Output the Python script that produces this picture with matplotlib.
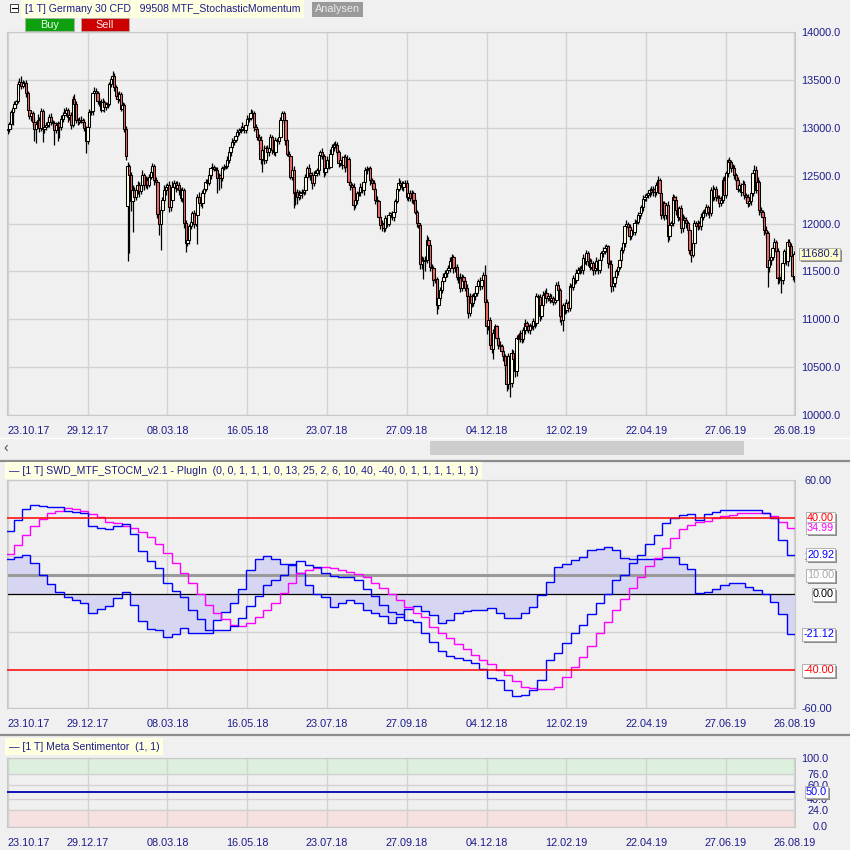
"""
Germany 30 CFD daily candles with MTF stochastic momentum and sentiment panels
"""
import numpy as np
import matplotlib
matplotlib.use("Agg")
import matplotlib.pyplot as plt
import matplotlib.patheffects as pe
from matplotlib.patches import Rectangle
from matplotlib.lines import Line2D
from matplotlib.transforms import blended_transform_factory

plt.rcParams["font.family"] = ["Liberation Sans", "DejaVu Sans"]

W = H = 850
BG = "#F0F0F0"
GRID = "#D2D2D2"
NAVY = "#1C1C8C"
UP = "#FFFFE4"
DOWN = "#EE6464"
FS = 7.8

# x axis labels (bar index -> date)
date_labels = ["23.10.17", "29.12.17", "08.03.18", "16.05.18", "23.07.18", "27.09.18",
               "04.12.18", "12.02.19", "22.04.19", "27.06.19", "26.08.19"]
date_bars = [0, 48, 96, 144, 192, 240, 288, 336, 384, 432, 473]

# daily candles, open = previous close unless listed in gap_opens
first_open = 12975
gap_opens = {72: 12185}
close = [
    12990, 13035, 13160, 13205, 13245, 13275, 13460, 13480, 13440, 13465,
    13470, 13360, 13190, 13120, 13150, 13060, 12990, 13040, 13080, 12995,
    13170, 12990, 13005, 13030, 13060, 13115, 13060, 13045, 12975, 13025,
    13045, 13010, 13095, 13130, 13155, 13185, 13115, 13130, 13025, 13305,
    13250, 13085, 13080, 13065, 13080, 13060, 13000, 12860, 13010, 13160,
    13170, 13365, 13380, 13360, 13280, 13270, 13190, 13265, 13215, 13250,
    13250, 13460, 13505, 13540, 13425, 13330, 13305, 13350, 13200, 13235,
    12985, 12700, 12600, 12505, 12230, 12350, 12280, 12350, 12400, 12335,
    12400, 12505, 12400, 12455, 12400, 12490, 12540, 12600, 12455, 12435,
    12100, 11990, 12140, 12250, 12350, 12385, 12400, 12175, 12250, 12385,
    12420, 12370, 12400, 12350, 12265, 12350, 12005, 11795, 11830, 11970,
    12020, 12105, 12000, 12090, 12280, 12210, 12210, 12315, 12365, 12435,
    12420, 12505, 12575, 12585, 12570, 12560, 12470, 12505, 12470, 12575,
    12595, 12600, 12660, 12750, 12800, 12855, 12870, 12915, 12960, 12975,
    12990, 13010, 12980, 13025, 13095, 13105, 13150, 13155, 13010, 12990,
    12905, 12870, 12670, 12765, 12660, 12785, 12750, 12785, 12905, 12765,
    12750, 12870, 12860, 12905, 13080, 13150, 13080, 12870, 12730, 12700,
    12490, 12560, 12315, 12330, 12280, 12300, 12315, 12330, 12350, 12490,
    12575, 12525, 12505, 12420, 12505, 12525, 12560, 12715, 12750, 12700,
    12540, 12575, 12660, 12595, 12730, 12800, 12835, 12815, 12750, 12630,
    12660, 12610, 12695, 12590, 12670, 12435, 12405, 12385, 12195, 12245,
    12315, 12330, 12385, 12350, 12435, 12560, 12565, 12575, 12455, 12420,
    12365, 12245, 12230, 12070, 11985, 12000, 11950, 12055, 12000, 12090,
    12105, 12070, 12125, 12230, 12365, 12420, 12400, 12380, 12420, 12425,
    12280, 12315, 12265, 12315, 12245, 12125, 12005, 11985, 11580, 11620,
    11605, 11620, 11830, 11775, 11550, 11535, 11410, 11420, 11150, 11220,
    11310, 11395, 11445, 11480, 11515, 11535, 11605, 11655, 11535, 11550,
    11445, 11430, 11325, 11445, 11395, 11325, 11240, 11065, 11240, 11170,
    11240, 11275, 11345, 11395, 11345, 11410, 11465, 11185, 10925, 10995,
    10735, 10685, 10855, 10925, 10805, 10735, 10720, 10665, 10615, 10525,
    10320, 10615, 10330, 10650, 10580, 10460, 10805, 10790, 10855, 10790,
    10890, 10960, 10925, 10890, 10945, 10925, 10980, 10960, 11240, 11235,
    11030, 11150, 11255, 11275, 11220, 11240, 11205, 11220, 11185, 11205,
    11360, 11310, 11030, 10995, 11150, 11100, 11170, 11115, 11345, 11340,
    11430, 11410, 11480, 11515, 11535, 11515, 11640, 11605, 11690, 11605,
    11550, 11585, 11515, 11535, 11605, 11515, 11620, 11690, 11710, 11745,
    11760, 11590, 11580, 11345, 11380, 11445, 11500, 11550, 11620, 11725,
    11795, 11970, 11995, 11965, 11865, 11935, 11915, 12005, 12020, 12090,
    12105, 12175, 12260, 12280, 12300, 12315, 12350, 12330, 12365, 12330,
    12400, 12455, 12315, 12090, 12210, 12090, 12195, 11865, 11985, 12005,
    12280, 12245, 12140, 12070, 12160, 11950, 12055, 12040, 12005, 11935,
    11725, 11675, 11795, 12005, 11970, 12005, 11970, 12070, 12125, 12105,
    12175, 12125, 12105, 12350, 12280, 12365, 12280, 12265, 12210, 12245,
    12455, 12300, 12525, 12660, 12645, 12575, 12580, 12505, 12455, 12365,
    12400, 12330, 12410, 12300, 12280, 12210, 12230, 12315, 12525, 12560,
    12350, 12435, 12140, 12125, 12070, 11935, 11900, 11550, 11620, 11655,
    11745, 11810, 11710, 11430, 11445, 11410, 11585, 11710, 11605, 11810,
    11760, 11660, 11450, 11680.4,
]
# wick lengths above / below the body, in units of 10 points
wick_hi = [
    3, 2, 3, 2, 3, 2, 3, 4, 6, 3,  2, 3, 2, 4, 3, 2, 4, 3, 6, 3,
    4, 3, 2, 3, 5, 3, 4, 2, 3, 4,  3, 2, 4, 3, 5, 3, 2, 4, 3, 3,
    5, 3, 2, 3, 4, 2, 3, 2, 3, 4,  3, 2, 5, 3, 2, 4, 3, 5, 3, 2,
    3, 2, 4, 5, 3, 2, 4, 3, 2, 3,  2, 3, 4, 2, 3, 5, 3, 2, 4, 3,
    3, 5, 2, 4, 3, 3, 4, 3, 2, 3,  2, 3, 4, 3, 5, 3, 2, 4, 3, 6,
    3, 2, 4, 3, 2, 3, 2, 3, 4, 3,  5, 3, 4, 2, 3, 5, 3, 4, 2, 3,
    3, 4, 2, 5, 3, 2, 3, 2, 4, 3,  3, 2, 4, 3, 2, 4, 3, 2, 3, 2,
    3, 5, 2, 3, 4, 2, 5, 3, 2, 3,  2, 3, 4, 3, 5, 2, 3, 4, 3, 2,
    4, 3, 2, 5, 3, 2, 3, 4, 2, 3,  2, 3, 4, 2, 3, 5, 2, 3, 4, 3,
    3, 5, 2, 3, 4, 3, 2, 3, 2, 4,  3, 2, 4, 3, 5, 3, 2, 3, 4, 2,
    3, 4, 2, 3, 5, 2, 3, 2, 4, 3,  2, 3, 4, 3, 2, 3, 4, 2, 3, 2,
    3, 2, 4, 2, 3, 4, 2, 3, 2, 3,  2, 3, 4, 3, 2, 5, 3, 4, 2, 3,
    3, 2, 3, 4, 2, 3, 2, 3, 2, 4,  3, 4, 5, 3, 2, 3, 2, 3, 2, 4,
    3, 2, 4, 3, 2, 3, 4, 3, 2, 4,  3, 2, 5, 3, 2, 3, 4, 2, 3, 2,
    3, 2, 4, 3, 5, 3, 3, 10, 3, 2, 3, 2, 4, 3, 2, 3, 4, 2, 3, 2,
    4, 3, 2, 4, 3, 2, 3, 4, 3, 2,  3, 4, 2, 3, 2, 4, 3, 2, 3, 2,
    3, 2, 4, 3, 5, 2, 3, 4, 2, 3,  3, 4, 2, 3, 2, 3, 4, 2, 3, 2,
    3, 2, 4, 3, 2, 3, 4, 2, 3, 2,  3, 4, 2, 3, 4, 2, 3, 2, 4, 3,
    3, 2, 3, 4, 2, 3, 2, 3, 2, 3,  2, 3, 4, 2, 3, 2, 3, 4, 2, 3,
    3, 2, 4, 3, 2, 3, 2, 4, 3, 2,  3, 4, 2, 3, 2, 3, 2, 4, 3, 2,
    3, 2, 4, 3, 2, 3, 4, 2, 3, 2,  3, 2, 4, 3, 2, 3, 2, 4, 2, 3,
    3, 2, 4, 3, 5, 2, 3, 2, 3, 4,  3, 4, 2, 1, 3, 2, 4, 3, 2, 3,
    3, 2, 4, 3, 2, 3, 4, 2, 3, 5,  4, 5, 2, 3, 2, 3, 4, 2, 3, 4,
    3, 4, 2, 3, 2, 4, 3, 2, 4, 3,  3, 4, 2, 3,
]
wick_lo = [
    4, 3, 5, 13, 3, 4, 2, 3, 4, 3,  3, 4, 2, 3, 5, 4, 13, 15, 3, 4,
    3, 14, 4, 3, 2, 5, 3, 4, 15, 3,  16, 12, 3, 4, 2, 3, 5, 3, 4, 2,
    3, 4, 5, 3, 2, 4, 3, 12, 3, 2,  3, 4, 2, 5, 3, 4, 3, 2, 5, 3,
    4, 2, 3, 2, 4, 3, 5, 3, 2, 4,  3, 4, 58, 81, 10, 32, 5, 3, 4, 6,
    3, 4, 5, 3, 4, 2, 3, 4, 5, 3,  4, 11, 27, 3, 4, 5, 3, 6, 4, 3,
    3, 4, 2, 5, 3, 4, 5, 9, 3, 4,  3, 4, 5, 3, 30, 4, 3, 5, 4, 3,
    3, 2, 4, 3, 2, 5, 15, 12, 10, 3,  2, 3, 2, 3, 4, 2, 3, 2, 3, 4,
    3, 2, 4, 3, 2, 3, 2, 3, 4, 3,  3, 4, 5, 13, 4, 3, 5, 4, 3, 4,
    3, 4, 5, 3, 2, 3, 4, 5, 3, 4,  3, 4, 15, 12, 8, 3, 4, 5, 3, 4,
    3, 4, 5, 6, 3, 4, 3, 5, 4, 3,  5, 3, 4, 3, 2, 3, 4, 3, 5, 4,
    3, 4, 3, 5, 4, 3, 6, 4, 5, 3,  4, 3, 4, 3, 5, 3, 4, 3, 5, 4,
    3, 4, 5, 3, 4, 6, 4, 3, 4, 3,  4, 3, 4, 3, 2, 3, 4, 3, 4, 3,
    3, 4, 3, 5, 4, 3, 4, 3, 5, 6,  18, 10, 3, 4, 5, 4, 6, 3, 10, 4,
    3, 4, 3, 5, 4, 3, 4, 3, 5, 4,  3, 5, 4, 3, 4, 3, 6, 5, 3, 4,
    3, 4, 3, 5, 4, 3, 4, 6, 8, 4,  5, 4, 10, 3, 4, 5, 3, 4, 5, 6,
    7, 5, 14, 4, 5, 6, 5, 4, 3, 4,  3, 4, 5, 3, 4, 3, 4, 5, 3, 4,
    5, 3, 4, 3, 5, 3, 4, 3, 4, 3,  3, 4, 6, 5, 12, 4, 3, 4, 3, 4,
    3, 4, 3, 5, 4, 3, 4, 3, 4, 5,  4, 3, 5, 4, 3, 4, 3, 5, 4, 3,
    4, 5, 4, 6, 5, 4, 3, 4, 3, 4,  3, 4, 3, 5, 4, 3, 4, 3, 4, 3,
    4, 3, 4, 3, 4, 3, 4, 3, 4, 5,  3, 4, 5, 4, 3, 5, 4, 6, 4, 3,
    3, 4, 5, 4, 3, 5, 4, 3, 5, 4,  4, 8, 3, 4, 3, 4, 3, 4, 3, 4,
    3, 4, 5, 3, 4, 3, 4, 3, 4, 3,  3, 4, 3, 4, 3, 4, 3, 4, 5, 4,
    3, 4, 3, 4, 5, 4, 3, 4, 3, 4,  3, 4, 5, 4, 5, 6, 5, 21, 6, 5,
    4, 5, 4, 6, 5, 14, 4, 3, 4, 5,  4, 5, 4, 6,
]

# weekly (5-bar) steps of the MTF stochastic momentum plug-in
week_len = 5
stoch_main = [
    33.3, 39, 44.7, 47, 46.4, 46.1, 46.1, 44, 43.5, 42.6,
    35.9, 34.7, 34.2, 36.1, 36.8, 31.6, 23, 17.5, 13.6, 6.1,
    1.7, -1.3, -8, -13, -18.6, -18.6, -18.6, -16.8, -12.5, -6.4,
    -0.9, 5, 7.5, 10.2, 15.4, 17.5, 15.4, 14.4, 11.4, 9.6,
    9.3, 9.3, 7.5, 2.6, -0.9, -5.6, -9.1, -10.3, -13.5, -14.4,
    -20.2, -24.9, -29.7, -32.5, -33.7, -34.6, -36, -39.5, -44.2, -45.1,
    -50.4, -53.5, -53, -50.4, -45.1, -34.6, -30.7, -25.5, -20.5, -16.2,
    -10.4, -4.7, 0.2, 7.5, 10.2, 16.3, 20.7, 26.5, 31.2, 37.4,
    40, 41.7, 42.3, 39, 42.3, 43.5, 44.4, 44.4, 44.4, 44.4,
    44.4, 43, 40, 28.6, 20.92,
]
stoch_signal = [
    21.2, 25.9, 31.2, 36, 39.5, 42.6, 44, 45.2, 44.7, 44,
    42.3, 40.5, 38.2, 37.4, 36, 34.7, 33, 30.3, 26.5, 21.6,
    16.3, 11.1, 6.1, 0, -5.6, -10, -13.2, -16.1, -16.7, -15.3,
    -11.8, -8.3, -4.8, 0.9, 5.8, 11.1, 12.8, 13.6, 14.2, 13.6,
    12.8, 11.9, 10.7, 8.9, 5.8, 3.5, 0, -2.9, -6.5, -9.9,
    -11.8, -17, -20.2, -23.2, -26.2, -29, -32, -34.6, -36.7, -39.8,
    -42.5, -45.5, -48.6, -49.5, -50, -50, -48.6, -43.3, -38.1, -32.8,
    -27.2, -20.5, -14.4, -8.3, -2.6, 3.2, 8.9, 14.9, 18.9, 24.2,
    29.5, 34.2, 36.5, 38.2, 38.6, 40, 41, 42, 42.8, 42.8,
    42.8, 42.8, 41, 38, 34.99,
]
stoch_hist = [
    18.4, 19.8, 20.5, 16.6, 10.2, 5.2, 1.4, -1.6, -3, -4.4,
    -9.7, -7.7, -6.2, -2.1, 1, -5.6, -14, -18, -18.8, -22.5,
    -21, -17.9, -20.5, -20.5, -20.2, -13.5, -9.1, -4.4, 3, 12.8,
    18.6, 20.4, 18.6, 16, 16, 11, 5, 0, -1.6, -6.5,
    -4.8, -3, -4.4, -8.3, -10, -11.4, -14.9, -12, -7.7, -6,
    -8.6, -10.9, -15.3, -13.5, -10, -8.6, -8, -8, -7.4, -10,
    -12.6, -12.6, -10, -6.5, -0.4, 6.6, 14.4, 16, 17.9, 19.7,
    23.5, 24, 24.9, 23.1, 19.3, 18.8, 18.8, 18.8, 18.8, 19.7,
    19.7, 16.1, 13.5, 0.7, 1, 3, 5, 5.8, 5.8, 4,
    2.3, 0, -4, -10.4, -21.12,
]
stoch_levels = [40, 10, 0, -40]

sentiment_value = 50.0


def px_box(x0, y0, x1, y1):
    return [x0 / W, 1 - y1 / H, (x1 - x0) / W, (y1 - y0) / H]


def fig_rect(x0, y0, x1, y1, **kw):
    fig.add_artist(Rectangle((x0 / W, 1 - y1 / H), (x1 - x0) / W, (y1 - y0) / H,
                             transform=fig.transFigure, **kw))


def fig_hline(x0, x1, y, **kw):
    fig.add_artist(Line2D([x0 / W, x1 / W], [1 - y / H] * 2, transform=fig.transFigure, **kw))


fig = plt.figure(figsize=(8.5, 8.5), dpi=100, facecolor=BG)


def panel(box, ylim, yticks, ylabels, ypad, yha):
    ax = fig.add_axes(px_box(*box))
    ax.set_facecolor(BG)
    ax.set_xlim(-0.5, len(close) - 0.5)
    ax.set_ylim(*ylim)
    for s in ax.spines.values():
        s.set_color("#C8C8C8")
    ax.set_xticks(date_bars, date_labels)
    ax.set_yticks(yticks, ylabels)
    ax.yaxis.tick_right()
    ax.tick_params(axis="both", length=0, labelsize=FS, labelcolor=NAVY)
    ax.tick_params(axis="x", pad=8.0)
    ax.tick_params(axis="y", pad=ypad)
    for lbl in ax.get_yticklabels():
        lbl.set_ha(yha)
    ax.get_xticklabels()[0].set_ha("left")
    ax.grid(color=GRID, lw=1)
    ax.set_axisbelow(True)
    return ax


def badge(ax, y, text, color, x_px, ha="right", fc="white"):
    # value box on the right scale, with a drop shadow on its frame
    tr = blended_transform_factory(fig.transFigure, ax.transData)
    t = ax.text(x_px / W, y, text, color=color, transform=tr, fontsize=FS,
                va="center", ha=ha, zorder=10, clip_on=False,
                bbox=dict(boxstyle="square,pad=0.12", fc=fc, ec="#A8A8A8", lw=0.6))
    t.get_bbox_patch().set_path_effects(
        [pe.SimplePatchShadow(offset=(1.5, -1.5), shadow_rgbFace="#8A8A8A", alpha=1.0), pe.Normal()])


# ---- price panel ----
ax1 = panel((7, 32, 795, 415), (10000, 14000), np.arange(10000, 14001, 500),
            [f"{v:.1f}" for v in np.arange(10000, 14001, 500)], 4.3, "left")

n = len(close)
x = np.arange(n)
c = np.array(close, dtype=float)
o = np.r_[first_open, c[:-1]]
for i, v in gap_opens.items():
    o[i] = v
top = np.maximum(o, c)
bot = np.minimum(o, c)
hi = top + 10 * np.array(wick_hi)
lo = bot - 10 * np.array(wick_lo)
ax1.vlines(x, lo, hi, color="black", lw=0.9, zorder=2)
ax1.bar(x, np.maximum(top - bot, 4), bottom=bot, width=1.4,
        color=np.where(c >= o, UP, DOWN), edgecolor="black", linewidth=0.75, zorder=3)
badge(ax1, close[-1], f"{close[-1]:.1f}", NAVY, 800, ha="left", fc="#FFFFC8")

# ---- stochastic momentum panel ----
# the -20.00 label sits fully under the -21.12 value box in the original
ax2 = panel((7, 480.3, 795, 708.3), (-60, 60), [60, 20, -20, -60],
            ["60.00", "20.00", "", "-60.00"], 26.6, "right")
edges = week_len * np.arange(len(stoch_main) + 1) - 1.5
ax2.stairs(stoch_hist, edges, baseline=0, fill=True, color="#D6D6F2", zorder=1)
ax2.axhline(stoch_levels[1], color="#9A9A9A", lw=2.2, zorder=2)
ax2.axhline(stoch_levels[2], color="black", lw=0.9, zorder=2)
ax2.stairs(stoch_hist, edges, baseline=None, color="#0000FF", lw=1.0, zorder=3)
ax2.stairs(stoch_signal, edges, baseline=None, color="#FF00FF", lw=1.0, zorder=3)
ax2.stairs(stoch_main, edges, baseline=None, color="#0000FF", lw=1.0, zorder=3)
for lvl in (stoch_levels[0], stoch_levels[3]):
    ax2.axhline(lvl, color="#FF0000", lw=1.1, zorder=4)

badge(ax2, 40, "40.00", "#FF0000", 834)
badge(ax2, stoch_signal[-1], f"{stoch_signal[-1]:.2f}", "#FF00FF", 834)
badge(ax2, stoch_main[-1], f"{stoch_main[-1]:.2f}", "#0000FF", 834)
badge(ax2, 10, "10.00", "#A8A8A8", 834)
badge(ax2, 0, "0.00", "black", 834)
badge(ax2, stoch_hist[-1], f"{stoch_hist[-1]:.2f}", "#0000FF", 834)
badge(ax2, -40, "-40.00", "#FF0000", 834)

# ---- meta sentimentor panel ----
sent_ticks = [100, 76, 60, 40, 24, 0]
ax3 = panel((7, 757.5, 795, 826.5), (0, 100), sent_ticks,
            [f"{v:.1f}" for v in sent_ticks], 23.8, "right")
ax3.axhspan(76, 100, color="#DDF0DD", zorder=0.2)
ax3.axhspan(0, 24, color="#F6E0E0", zorder=0.2)
ax3.axhline(sentiment_value, color="#0000B4", lw=1.3, zorder=3)
badge(ax3, sentiment_value, f"{sentiment_value:.1f}", "#0000FF", 827)

# ---- header bars, buttons, scrollbar, separators ----
fig.text(25 / W, 1 - 9 / H, "[1 T] Germany 30 CFD   99508 MTF_StochasticMomentum",
         fontsize=7.6, color=NAVY, va="center",
         bbox=dict(boxstyle="square,pad=0.35", fc="#FFFFE1", ec="none"))
fig_rect(10, 4, 18, 12, fc="white", ec="#404040", lw=0.7)
fig_hline(11.5, 16.5, 8, color="black", lw=0.8)
fig_rect(312, 2, 363, 17, fc="#9A9A9A", ec="none", zorder=5)
fig.text(337.5 / W, 1 - 9.5 / H, "Analysen", fontsize=7.8, color="#EAEAEA",
         ha="center", va="center", zorder=6)
fig_rect(25, 18, 74, 31, fc="#0EA00E", ec="#B0B0B0", lw=0.5)
fig.text(49.5 / W, 1 - 24.5 / H, "Buy", fontsize=7.8, color="#E8FFE8", ha="center", va="center")
fig_rect(81, 18, 129, 31, fc="#CC0000", ec="#B0B0B0", lw=0.5)
fig.text(105 / W, 1 - 24.5 / H, "Sell", fontsize=7.8, color="#FFE8E8", ha="center", va="center")

fig_hline(0, 850, 438, color="white", lw=1)
fig_rect(430, 441, 744, 455, fc="#CDCDCD", ec="none")
fig.text(6 / W, 1 - 448 / H, "\u2039", fontsize=10, color="#505050", ha="center", va="center")
fig_hline(0, 850, 460.5, color="#8C8C8C", lw=1.6)
fig_hline(0, 850, 735, color="#8C8C8C", lw=1.6)

for y_px, text in [(470.5, "[1 T] SWD_MTF_STOCM_v2.1 - PlugIn  (0, 0, 1, 1, 1, 0, 13, 25, 2, 6, 10, "
                           "40, -40, 0, 1, 1, 1, 1, 1, 1)"),
                   (746.5, "[1 T] Meta Sentimentor  (1, 1)")]:
    fig.text(9 / W, 1 - y_px / H, "\u2014 " + text, fontsize=7.6, color=NAVY, va="center",
             bbox=dict(boxstyle="square,pad=0.35", fc="#FFFFE1", ec="none"))
    fig_hline(10, 21, y_px, color="#0000CC", lw=2)

fig.savefig("out.png", dpi=100, facecolor=BG)
